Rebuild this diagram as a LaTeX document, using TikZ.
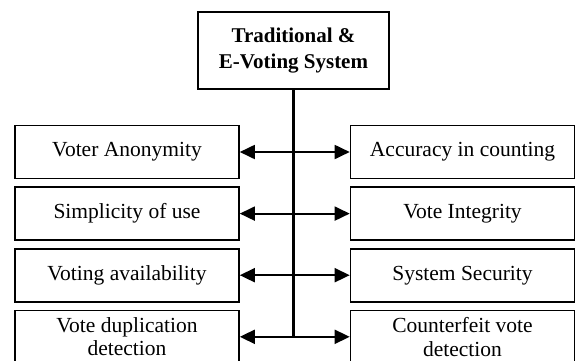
\documentclass[tikz,border=0pt]{standalone}
\usepackage{fontspec}
\setmainfont{Liberation Serif}
\usepackage{tikz}
\usetikzlibrary{arrows.meta, positioning}
\tikzset{
    sysbox/.style={
      draw, %frame
      line width=1.6pt,
      minimum width=191pt,
      minimum height=77pt,
      align=center,
      font=\fontsize{21}{26}\selectfont\bfseries,
    },
    itembox/.style={
      draw,
      line width=1.6pt,
      minimum width=224pt,
      minimum height=53pt,
      align=center,
      inner sep=0pt,
      font=\fontsize{21.5}{23.5}\selectfont,
    },
    link/.style={
      {Triangle[length=15pt,width=14pt]}-{Triangle[length=15pt,width=14pt]}, %both ends
      line width=1.8pt,
    }
  }
\begin{document}
\begin{tikzpicture}[x=1pt, y=-1pt]
          \useasboundingbox (0,0) rectangle (576,360);
          \node[sysbox] (sys) at (293.5,50.5) {Traditional \&\\E-Voting System};

          \node[itembox] (l1) at (127,152) {Voter Anonymity};
          \node[itembox, below=7pt of l1] (l2) {Simplicity of use};
          \node[itembox, below=7pt of l2] (l3) {Voting availability};
          \node[itembox, below=7pt of l3] (l4) {Vote duplication\\detection};

          \node[itembox] (r1) at (462.5,152) {Accuracy in counting};
          \node[itembox, below=7pt of r1] (r2) {Vote Integrity};
          \node[itembox, below=7pt of r2] (r3) {System Security};
          \node[itembox, below=7pt of r3] (r4) {Counterfeit vote\\detection};

          \coordinate (trunk) at (sys.south |- l4.west);
          \draw[line width=2.2pt] (sys.south) -- (trunk);

          \draw[link] (l1) -- (r1);
          \draw[link] (l2) -- (r2);
          \draw[link] (l3) -- (r3);
          \draw[link] (l4) -- (r4);
        \end{tikzpicture}
\end{document}
